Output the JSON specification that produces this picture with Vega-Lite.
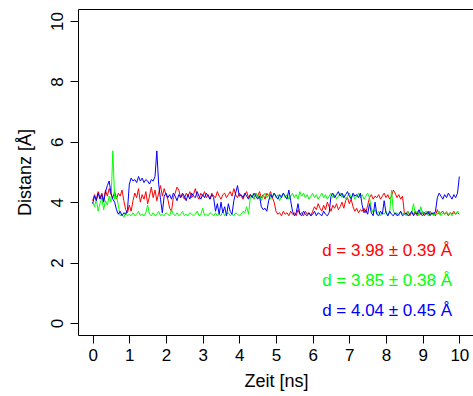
{
"$schema": "https://vega.github.io/schema/vega-lite/v6.json",
"width": 396, "height": 326,
"autosize": {"type": "none"},
"padding": {"left": 78, "top": 9, "right": 0, "bottom": 61},
"config": {"font": "Liberation Sans", "view": {"stroke": "black", "strokeWidth": 1}},
"encoding": {
"x": {"field": "t", "type": "quantitative", "scale": {"domain": [-0.4, 10.4], "nice": false, "zero": false},
"axis": {"values": [0,1,2,3,4,5,6,7,8,9,10], "title": "Zeit [ns]", "domain": false, "grid": false, "tickSize": 8, "tickColor": "black", "labelFontSize": 17, "labelColor": "black", "labelPadding": 4, "labelFlush": false, "labelOverlap": false, "titleFontSize": 18, "titleFontWeight": "normal", "titleColor": "black", "titleY": 51, "titleBaseline": "alphabetic"}},
"y": {"field": "d", "type": "quantitative", "scale": {"domain": [-0.4, 10.4], "nice": false, "zero": false},
"axis": {"values": [0,2,4,6,8,10], "title": "Distanz [Å]", "domain": false, "grid": false, "tickSize": 8, "tickColor": "black", "labelFontSize": 17, "labelColor": "black", "labelAngle": -90, "labelAlign": "center", "labelBaseline": "alphabetic", "labelPadding": 8, "labelFlush": false, "labelOverlap": false, "titleFontSize": 18, "titleFontWeight": "normal", "titleColor": "black", "titleAngle": -90, "titleX": -48, "titleBaseline": "alphabetic"}},
"color": {"field": "s", "type": "nominal", "scale": {"domain": ["r", "g", "b"], "range": ["#FF0000", "#00FF00", "#0000FF"]}, "legend": null}
},
"layer": [
{
"data": {"values": [
{"t":0.00,"r":4.05,"g":4.00,"b":3.95},{"t":0.05,"r":4.25,"g":3.85,"b":4.20},{"t":0.10,"r":4.10,"g":4.10,"b":4.05},{"t":0.15,"r":4.35,"g":3.70,"b":4.30},{"t":0.20,"r":4.15,"g":3.95,"b":4.10},
{"t":0.25,"r":4.30,"g":4.15,"b":4.25},{"t":0.30,"r":4.05,"g":3.75,"b":4.00},{"t":0.35,"r":4.40,"g":4.05,"b":4.35},{"t":0.40,"r":4.20,"g":3.90,"b":4.55},{"t":0.45,"r":4.45,"g":4.20,"b":4.70},
{"t":0.50,"r":4.25,"g":4.00,"b":4.30},{"t":0.55,"r":4.15,"g":5.70,"b":4.10},{"t":0.60,"r":4.35,"g":4.10,"b":4.00},{"t":0.65,"r":4.10,"g":4.20,"b":3.75},{"t":0.70,"r":4.30,"g":3.90,"b":3.60},
{"t":0.75,"r":4.20,"g":3.55,"b":3.70},{"t":0.80,"r":4.40,"g":3.60,"b":3.55},{"t":0.85,"r":4.05,"g":3.50,"b":3.65},{"t":0.90,"r":3.75,"g":3.65,"b":3.60},{"t":0.95,"r":3.65,"g":3.55,"b":3.75},
{"t":1.00,"r":3.90,"g":3.60,"b":4.60},{"t":1.05,"r":3.70,"g":3.55,"b":4.80},{"t":1.10,"r":4.05,"g":3.65,"b":4.70},{"t":1.15,"r":4.30,"g":3.55,"b":4.75},{"t":1.20,"r":4.15,"g":3.60,"b":4.65},
{"t":1.25,"r":4.45,"g":3.70,"b":4.85},{"t":1.30,"r":4.00,"g":3.55,"b":4.70},{"t":1.35,"r":4.25,"g":3.60,"b":4.80},{"t":1.40,"r":4.10,"g":3.55,"b":4.65},{"t":1.45,"r":4.35,"g":3.65,"b":4.75},
{"t":1.50,"r":3.95,"g":3.90,"b":4.70},{"t":1.55,"r":4.20,"g":3.60,"b":4.60},{"t":1.60,"r":4.50,"g":3.55,"b":4.75},{"t":1.65,"r":4.15,"g":3.65,"b":4.70},{"t":1.70,"r":4.40,"g":3.55,"b":4.85},
{"t":1.75,"r":4.05,"g":3.60,"b":5.70},{"t":1.80,"r":4.30,"g":3.70,"b":4.60},{"t":1.85,"r":4.55,"g":3.55,"b":4.10},{"t":1.90,"r":4.20,"g":3.60,"b":3.65},{"t":1.95,"r":4.45,"g":3.55,"b":4.20},
{"t":2.00,"r":4.25,"g":3.65,"b":4.30},{"t":2.05,"r":4.10,"g":3.60,"b":4.15},{"t":2.10,"r":3.80,"g":3.55,"b":4.25},{"t":2.15,"r":3.70,"g":3.75,"b":4.10},{"t":2.20,"r":4.15,"g":3.60,"b":4.30},
{"t":2.25,"r":4.30,"g":3.55,"b":4.20},{"t":2.30,"r":4.50,"g":3.65,"b":4.05},{"t":2.35,"r":4.40,"g":3.55,"b":4.25},{"t":2.40,"r":4.15,"g":3.60,"b":4.15},{"t":2.45,"r":4.25,"g":3.70,"b":4.30},
{"t":2.50,"r":4.10,"g":3.55,"b":4.20},{"t":2.55,"r":4.30,"g":3.60,"b":4.05},{"t":2.60,"r":4.20,"g":3.55,"b":4.25},{"t":2.65,"r":4.35,"g":3.65,"b":4.10},{"t":2.70,"r":4.15,"g":3.60,"b":4.30},
{"t":2.75,"r":4.25,"g":3.55,"b":4.20},{"t":2.80,"r":4.45,"g":3.60,"b":4.15},{"t":2.85,"r":4.20,"g":3.70,"b":4.35},{"t":2.90,"r":4.10,"g":3.55,"b":4.20},{"t":2.95,"r":4.30,"g":3.60,"b":4.10},
{"t":3.00,"r":4.20,"g":3.80,"b":4.25},{"t":3.05,"r":4.35,"g":3.55,"b":4.15},{"t":3.10,"r":4.15,"g":3.60,"b":4.30},{"t":3.15,"r":4.25,"g":3.55,"b":4.20},{"t":3.20,"r":4.10,"g":3.65,"b":4.10},
{"t":3.25,"r":4.30,"g":3.60,"b":4.25},{"t":3.30,"r":4.20,"g":3.55,"b":4.15},{"t":3.35,"r":4.15,"g":3.65,"b":3.70},{"t":3.40,"r":4.35,"g":3.55,"b":3.95},{"t":3.45,"r":4.20,"g":3.60,"b":3.60},
{"t":3.50,"r":4.10,"g":3.55,"b":4.00},{"t":3.55,"r":4.25,"g":3.70,"b":3.65},{"t":3.60,"r":4.30,"g":3.55,"b":3.85},{"t":3.65,"r":4.15,"g":3.60,"b":3.55},{"t":3.70,"r":4.25,"g":3.65,"b":3.95},
{"t":3.75,"r":4.35,"g":3.55,"b":3.70},{"t":3.80,"r":4.20,"g":3.60,"b":3.60},{"t":3.85,"r":4.45,"g":3.55,"b":4.05},{"t":3.90,"r":4.25,"g":3.65,"b":4.30},{"t":3.95,"r":4.15,"g":3.60,"b":4.55},
{"t":4.00,"r":4.30,"g":3.55,"b":4.20},{"t":4.05,"r":4.20,"g":3.60,"b":4.25},{"t":4.10,"r":4.10,"g":3.70,"b":4.15},{"t":4.15,"r":4.25,"g":3.65,"b":4.30},{"t":4.20,"r":4.35,"g":3.85,"b":4.20},
{"t":4.25,"r":4.15,"g":3.60,"b":4.10},{"t":4.30,"r":4.25,"g":4.15,"b":4.25},{"t":4.35,"r":4.20,"g":4.25,"b":4.15},{"t":4.40,"r":4.10,"g":4.10,"b":4.30},{"t":4.45,"r":4.30,"g":4.30,"b":4.20},
{"t":4.50,"r":4.20,"g":4.15,"b":4.10},{"t":4.55,"r":4.35,"g":4.25,"b":4.20},{"t":4.60,"r":4.15,"g":4.05,"b":3.85},{"t":4.65,"r":4.25,"g":4.20,"b":3.75},{"t":4.70,"r":4.10,"g":4.30,"b":3.80},
{"t":4.75,"r":4.30,"g":4.15,"b":3.70},{"t":4.80,"r":4.20,"g":4.25,"b":4.05},{"t":4.85,"r":4.35,"g":4.10,"b":4.25},{"t":4.90,"r":4.15,"g":4.20,"b":4.15},{"t":4.95,"r":4.00,"g":4.30,"b":4.30},
{"t":5.00,"r":3.70,"g":4.15,"b":4.20},{"t":5.05,"r":3.60,"g":4.25,"b":4.10},{"t":5.10,"r":3.65,"g":4.05,"b":4.25},{"t":5.15,"r":3.55,"g":4.20,"b":4.15},{"t":5.20,"r":3.70,"g":4.30,"b":4.30},
{"t":5.25,"r":3.60,"g":4.15,"b":4.20},{"t":5.30,"r":3.65,"g":4.25,"b":4.10},{"t":5.35,"r":3.55,"g":4.10,"b":4.40},{"t":5.40,"r":3.70,"g":4.20,"b":4.05},{"t":5.45,"r":3.60,"g":4.30,"b":3.70},
{"t":5.50,"r":3.65,"g":4.15,"b":3.55},{"t":5.55,"r":3.55,"g":4.25,"b":3.65},{"t":5.60,"r":3.75,"g":4.10,"b":3.95},{"t":5.65,"r":3.60,"g":4.35,"b":3.60},{"t":5.70,"r":3.65,"g":4.20,"b":3.55},
{"t":5.75,"r":3.55,"g":4.30,"b":3.70},{"t":5.80,"r":3.70,"g":4.15,"b":3.60},{"t":5.85,"r":3.60,"g":4.25,"b":3.55},{"t":5.90,"r":3.65,"g":4.10,"b":3.65},{"t":5.95,"r":3.55,"g":4.20,"b":3.55},
{"t":6.00,"r":3.70,"g":4.30,"b":3.60},{"t":6.05,"r":3.85,"g":4.15,"b":3.70},{"t":6.10,"r":3.75,"g":4.25,"b":3.55},{"t":6.15,"r":3.95,"g":4.10,"b":3.65},{"t":6.20,"r":3.80,"g":4.20,"b":3.60},
{"t":6.25,"r":3.70,"g":4.30,"b":3.55},{"t":6.30,"r":3.90,"g":4.15,"b":3.70},{"t":6.35,"r":3.75,"g":4.25,"b":3.60},{"t":6.40,"r":4.00,"g":4.10,"b":3.55},{"t":6.45,"r":3.85,"g":4.20,"b":3.65},
{"t":6.50,"r":3.70,"g":4.30,"b":4.20},{"t":6.55,"r":3.90,"g":4.15,"b":4.30},{"t":6.60,"r":3.80,"g":4.25,"b":4.15},{"t":6.65,"r":3.95,"g":4.10,"b":4.25},{"t":6.70,"r":3.75,"g":4.20,"b":4.35},
{"t":6.75,"r":3.85,"g":4.30,"b":4.20},{"t":6.80,"r":4.00,"g":4.15,"b":4.30},{"t":6.85,"r":3.80,"g":4.25,"b":4.15},{"t":6.90,"r":4.05,"g":4.10,"b":4.25},{"t":6.95,"r":4.15,"g":4.20,"b":4.35},
{"t":7.00,"r":3.95,"g":4.30,"b":4.20},{"t":7.05,"r":4.10,"g":4.15,"b":4.10},{"t":7.10,"r":3.85,"g":4.25,"b":4.30},{"t":7.15,"r":3.70,"g":4.10,"b":4.20},{"t":7.20,"r":3.80,"g":4.20,"b":4.25},
{"t":7.25,"r":3.65,"g":4.30,"b":4.15},{"t":7.30,"r":3.75,"g":4.15,"b":4.30},{"t":7.35,"r":3.70,"g":4.25,"b":3.90},{"t":7.40,"r":3.80,"g":4.10,"b":3.65},{"t":7.45,"r":3.65,"g":4.20,"b":3.75},
{"t":7.50,"r":3.90,"g":4.30,"b":3.60},{"t":7.55,"r":4.15,"g":4.15,"b":3.95},{"t":7.60,"r":4.25,"g":3.80,"b":3.65},{"t":7.65,"r":4.10,"g":3.65,"b":3.55},{"t":7.70,"r":4.20,"g":3.75,"b":4.00},
{"t":7.75,"r":4.15,"g":3.60,"b":3.60},{"t":7.80,"r":4.25,"g":3.70,"b":3.55},{"t":7.85,"r":4.10,"g":3.55,"b":3.70},{"t":7.90,"r":4.20,"g":3.65,"b":3.60},{"t":7.95,"r":4.30,"g":3.60,"b":4.05},
{"t":8.00,"r":4.15,"g":3.70,"b":3.65},{"t":8.05,"r":4.25,"g":3.55,"b":3.55},{"t":8.10,"r":4.10,"g":3.65,"b":3.70},{"t":8.15,"r":4.20,"g":4.40,"b":3.60},{"t":8.20,"r":4.40,"g":3.70,"b":3.55},
{"t":8.25,"r":4.30,"g":3.60,"b":3.65},{"t":8.30,"r":4.15,"g":3.65,"b":3.55},{"t":8.35,"r":4.25,"g":3.55,"b":3.60},{"t":8.40,"r":4.10,"g":3.70,"b":3.70},{"t":8.45,"r":4.20,"g":3.60,"b":3.55},
{"t":8.50,"r":3.65,"g":3.65,"b":3.60},{"t":8.55,"r":3.60,"g":3.55,"b":3.65},{"t":8.60,"r":3.70,"g":3.70,"b":3.55},{"t":8.65,"r":3.55,"g":3.60,"b":3.60},{"t":8.70,"r":3.65,"g":3.65,"b":3.70},
{"t":8.75,"r":3.60,"g":3.95,"b":3.55},{"t":8.80,"r":3.70,"g":3.60,"b":3.65},{"t":8.85,"r":3.55,"g":3.70,"b":3.60},{"t":8.90,"r":3.65,"g":3.55,"b":3.75},{"t":8.95,"r":3.60,"g":3.85,"b":3.60},
{"t":9.00,"r":3.70,"g":3.60,"b":3.55},{"t":9.05,"r":3.55,"g":3.65,"b":3.65},{"t":9.10,"r":3.65,"g":3.70,"b":3.60},{"t":9.15,"r":3.60,"g":3.55,"b":3.70},{"t":9.20,"r":3.70,"g":3.65,"b":3.55},
{"t":9.25,"r":3.60,"g":3.60,"b":3.65},{"t":9.30,"r":3.65,"g":3.55,"b":3.60},{"t":9.35,"r":3.55,"g":3.65,"b":3.70},{"t":9.40,"r":3.75,"g":3.60,"b":4.15},{"t":9.45,"r":3.60,"g":3.70,"b":4.30},
{"t":9.50,"r":3.65,"g":3.55,"b":4.20},{"t":9.55,"r":3.70,"g":3.65,"b":4.10},{"t":9.60,"r":3.60,"g":3.60,"b":4.25},{"t":9.65,"r":3.65,"g":3.70,"b":4.15},{"t":9.70,"r":3.55,"g":3.60,"b":4.30},
{"t":9.75,"r":3.65,"g":3.65,"b":4.20},{"t":9.80,"r":3.60,"g":3.55,"b":4.10},{"t":9.85,"r":3.70,"g":3.65,"b":4.25},{"t":9.90,"r":3.60,"g":3.60,"b":4.15},{"t":9.95,"r":3.65,"g":3.70,"b":4.30},
{"t":10.00,"r":3.60,"g":3.65,"b":4.85}
]},
"transform": [{"fold": ["r", "g", "b"], "as": ["s", "d"]}],
"mark": {"type": "line", "strokeWidth": 1, "clip": true},
"encoding": {}
},
{
"data": {"values": [
{"label": "d = 3.98 ± 0.39 Å", "s": "r", "t": 9.8, "d": 2.21},
{"label": "d = 3.85 ± 0.38 Å", "s": "g", "t": 9.8, "d": 1.22},
{"label": "d = 4.04 ± 0.45 Å", "s": "b", "t": 9.8, "d": 0.23}
]},
"mark": {"type": "text", "align": "right", "baseline": "alphabetic", "fontSize": 17},
"encoding": {"text": {"field": "label"}}
}
]
}
